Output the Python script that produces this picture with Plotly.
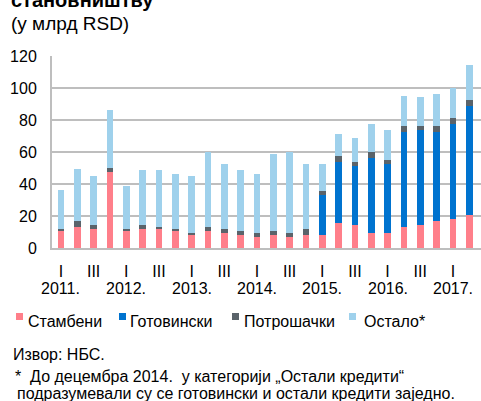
import plotly.graph_objects as go

years = ["2011", "2012", "2013", "2014", "2015", "2016", "2017"]
quarters = ["I", "II", "III", "IV"]
periods = [f"{y} {q}" for y in years for q in quarters][:26]

stambeni = [10.8, 13.3, 12.1, 47.5, 10.8, 12.1, 12.1, 10.8, 8.3, 10.8, 9.6, 8.3, 6.9,
            8.1, 6.9, 8.1, 8.1, 15.6, 14.6, 9.4, 9.4, 13.1, 14.4, 17.1, 18.1, 20.8]
gotovinski = [0, 0, 0, 0, 0, 0, 0, 0, 0, 0, 0, 0, 0, 0, 0, 0,
              25.2, 37.9, 36.4, 46.6, 42.9, 59.6, 59.4, 55.6, 59.6, 68.2]
potrosacki = [1.1, 3.6, 2.3, 2.5, 1.1, 2.5, 1.0, 1.1, 1.1, 2.5, 2.5, 2.5, 2.7,
              2.5, 2.7, 3.8, 2.5, 3.8, 2.5, 3.8, 2.5, 3.6, 2.5, 3.6, 3.6, 3.5]
ostalo = [24.1, 32.6, 30.4, 36.5, 26.6, 34.2, 35.6, 34.4, 35.4, 46.7, 40.4, 38.0, 36.4,
          48.2, 50.4, 40.4, 16.5, 14.0, 15.2, 17.9, 19.0, 19.0, 17.8, 20.2, 19.0, 21.7]

series_names = ["Стамбени", "Готовински", "Потрошачки", "Остало*"]
series_values = [stambeni, gotovinski, potrosacki, ostalo]
series_colors = ["#FF7F8A", "#0073CF", "#5A636A", "#9FD1EC"]

tick_vals = [p for p in periods if p.endswith(" I") or p.endswith(" III")]
tick_text = [p.split()[1] for p in tick_vals]
year_pos = [p for p in periods if p.endswith(" I")]
year_labels = [p.split()[0] + "." for p in year_pos]

W, H = 481, 401
L, R, T, B = 52, 0, 56, 153
plot_h = H - T - B
plot_w = W - L - R

def py(pix):
    return (H - B - pix) / plot_h

def px(pix):
    return (pix - L) / plot_w

fig = go.Figure()
for name, vals, col in zip(series_names, series_values, series_colors):
    fig.add_trace(go.Bar(x=periods, y=vals, name=name, marker=dict(color=col, line=dict(width=0))))

font = "Liberation Sans, Arial, sans-serif"
fig.update_layout(
    width=W, height=H,
    margin=dict(l=L, r=R, t=T, b=B, autoexpand=False),
    barmode="stack", bargap=0.6,
    paper_bgcolor="white", plot_bgcolor="white",
    font=dict(family=font, size=16, color="#000000"),
    showlegend=False,
    xaxis=dict(range=[-0.55, 25.72], tickmode="array", tickvals=tick_vals, ticktext=tick_text,
               showgrid=False, showline=True, linecolor="#BEBEBE", linewidth=2,
               ticks="", tickfont=dict(size=16), ticklabelstandoff=8, fixedrange=True,
               automargin=False),
    yaxis=dict(range=[0, 120], tickvals=[0, 20, 40, 60, 80, 100, 120],
               showgrid=True, gridcolor="#BEBEBE", gridwidth=2,
               showline=True, linecolor="#BEBEBE", linewidth=2, zeroline=False,
               ticks="", tickfont=dict(size=16), ticklabelstandoff=10, fixedrange=True,
               automargin=False),
)

# year labels under the first-quarter ticks
for xp, lab in zip(year_pos, year_labels):
    fig.add_annotation(x=xp, xref="x", y=py(288), yref="paper", text=lab,
                       showarrow=False, xanchor="center", yanchor="middle", font=dict(size=16))

# manual legend
legend_text_x = [27, 129, 243, 363]
legend_mark_x = [16, 119, 232, 349]
for name, col, tx, mx in zip(series_names, series_colors, legend_text_x, legend_mark_x):
    fig.add_shape(type="rect", xref="paper", yref="paper",
                  x0=px(mx), x1=px(mx + 7), y0=py(320), y1=py(313),
                  fillcolor=col, line=dict(width=0))
    fig.add_annotation(xref="paper", yref="paper", x=px(tx - 1), y=py(321), text=name,
                       showarrow=False, xanchor="left", yanchor="middle", font=dict(size=16))

annos = [
    dict(text="<b>становништву</b>", x=px(9), y=py(0), font=dict(size=20)),
    dict(text="(у млрд RSD)", x=px(9), y=py(24), font=dict(size=19)),
    dict(text="Извор: НБС.", x=px(11), y=py(354), font=dict(size=16)),
    dict(text="*  До децембра 2014.  у категорији „Остали кредити“", x=px(13), y=py(376), font=dict(size=16)),
    dict(text="подразумевали су се готовински и остали кредити заједно.", x=px(15), y=py(393), font=dict(size=16)),
]
for a in annos:
    fig.add_annotation(xref="paper", yref="paper", xanchor="left", yanchor="middle",
                       showarrow=False, **a)

fig.write_html("out.html", config={"displayModeBar": False},
               post_script="document.body.style.margin='0';document.body.style.overflow='hidden';")
